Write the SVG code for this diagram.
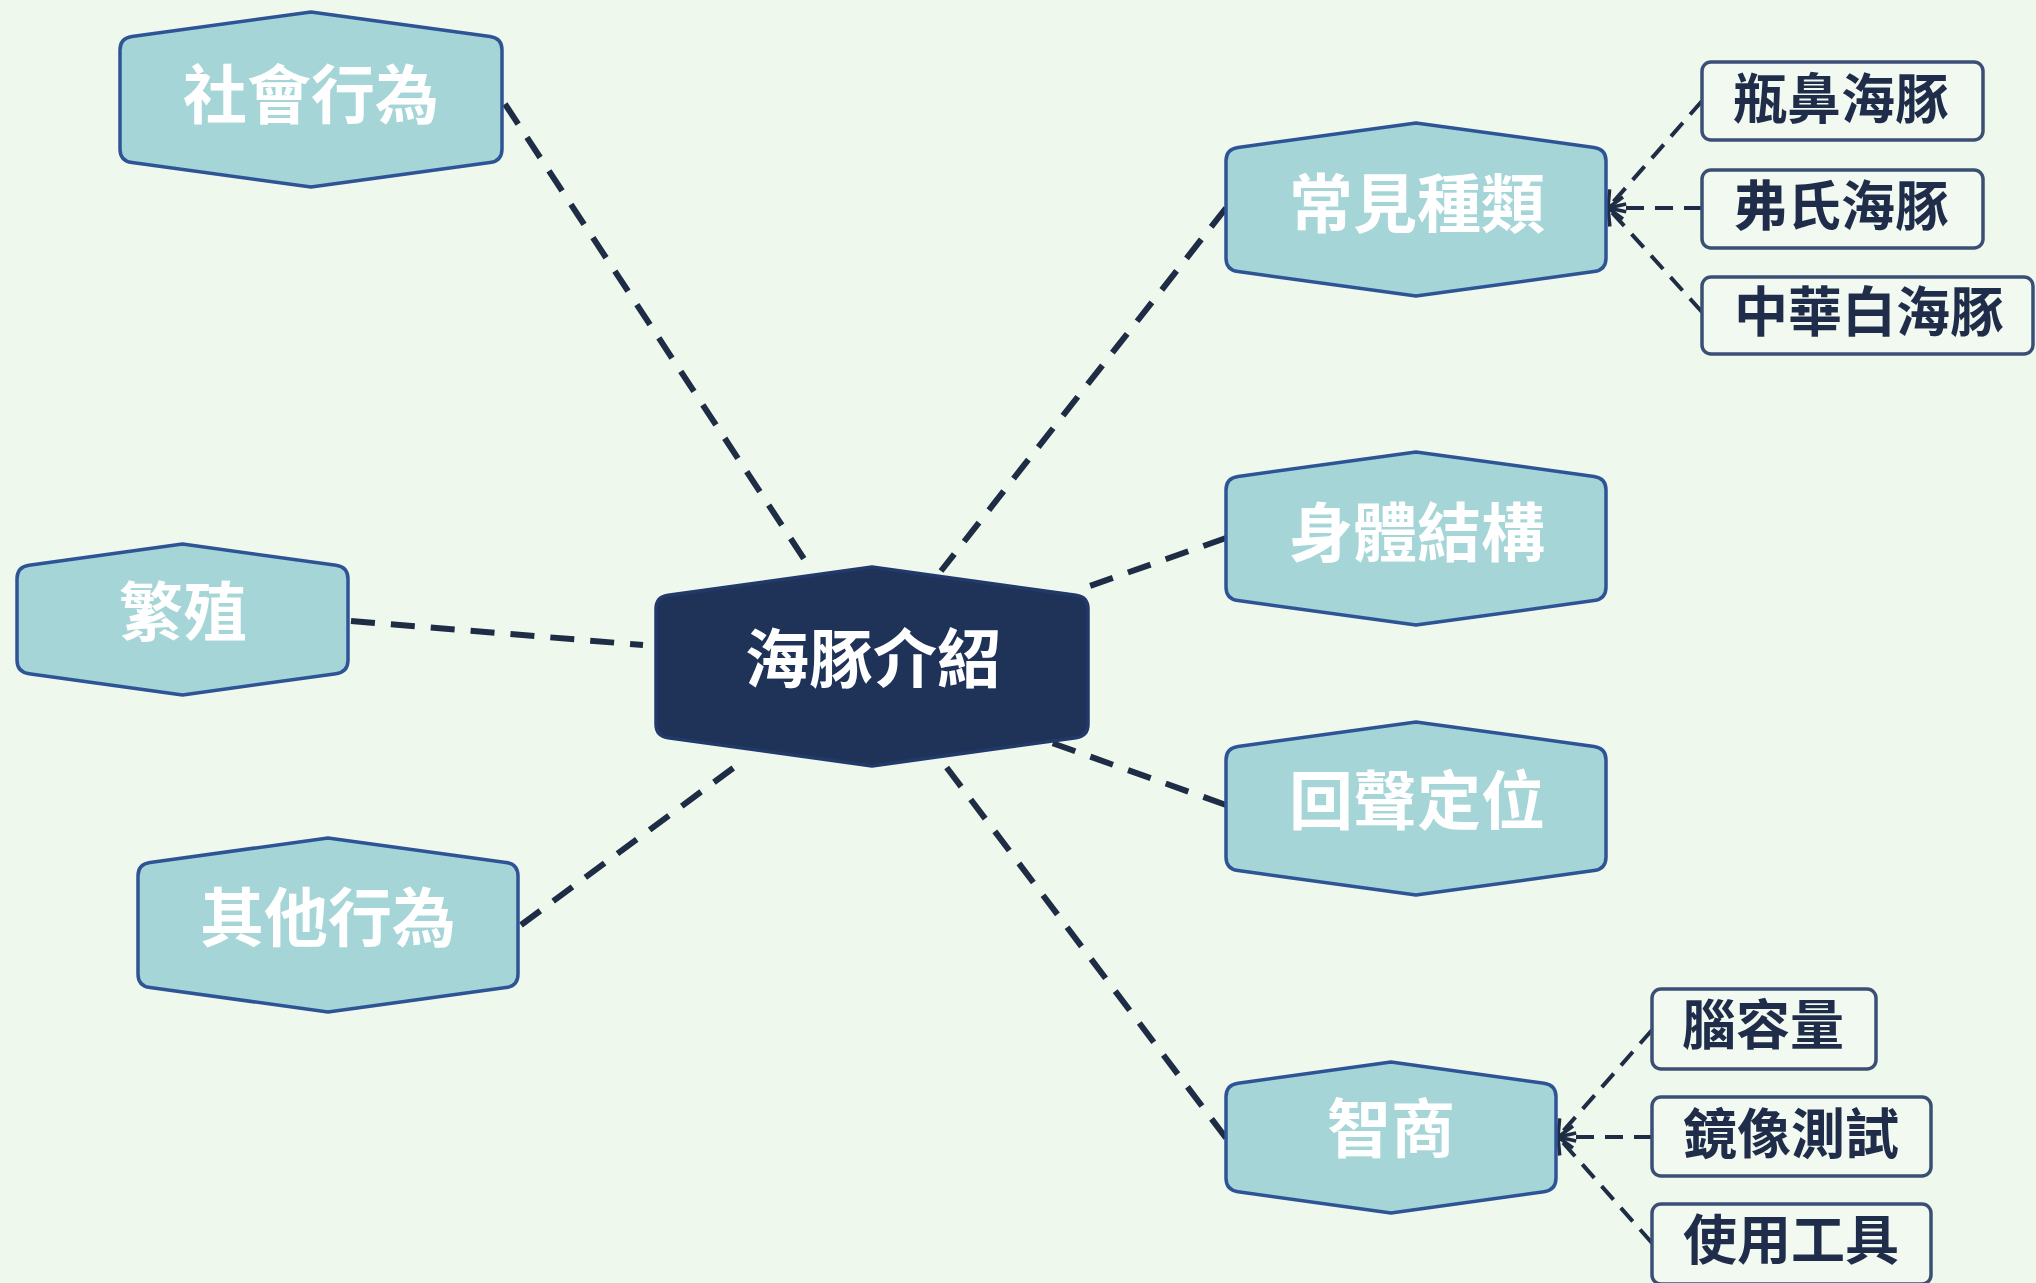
<svg xmlns="http://www.w3.org/2000/svg" width="2036" height="1283" viewBox="0 0 2036 1283">
<style>
.bg{fill:#eef8ec}
.hex{fill:#a5d5d7;stroke:#2f5496;stroke-width:3.5;stroke-linejoin:round}
.core{fill:#1f3358;stroke:#223a6a;stroke-width:3.5;stroke-linejoin:round}
.leaf{fill:#f2f9f0;stroke:#3b4f75;stroke-width:3.5}
.t1{font-family:"Noto Sans CJK TC","Noto Sans CJK SC",sans-serif;font-weight:700;font-size:64px;fill:#ffffff;text-anchor:middle;dominant-baseline:central}
.t2{font-family:"Noto Sans CJK TC","Noto Sans CJK SC",sans-serif;font-weight:700;font-size:54px;fill:#1f2d4a;text-anchor:middle;dominant-baseline:central}
.main{fill:none;stroke:#1e2c45;stroke-width:6;stroke-dasharray:24 16}
.sub{fill:none;stroke:#1e2c45;stroke-width:4;stroke-dasharray:18 11}
</style>
<defs>
<marker id="arr" markerUnits="userSpaceOnUse" markerWidth="28" markerHeight="28" viewBox="-18 -14 22 28" refX="0" refY="0" orient="auto">
<path d="M-15,-11 L0,0 L-15,11" fill="none" stroke="#1e2c45" stroke-width="3.5" stroke-dasharray="none"/>
</marker>
</defs>
<rect class="bg" x="0" y="0" width="2036" height="1283"/>
<g id="connectors">
<line class="main" x1="505" y1="104" x2="812" y2="571"/>
<line class="main" x1="1226" y1="208" x2="941" y2="571"/>
<line class="main" x1="1226" y1="538" x2="1084" y2="588"/>
<line class="main" x1="351" y1="621" x2="643" y2="645"/>
<line class="main" x1="521" y1="925" x2="744" y2="760"/>
<line class="main" x1="1226" y1="805" x2="1052" y2="743"/>
<line class="main" x1="1226" y1="1138" x2="941" y2="760"/>
<line class="sub" x1="1702" y1="101" x2="1608" y2="208" marker-end="url(#arr)"/>
<line class="sub" x1="1702" y1="208" x2="1608" y2="208" marker-end="url(#arr)"/>
<line class="sub" x1="1702" y1="312" x2="1608" y2="208" marker-end="url(#arr)"/>
<line class="sub" x1="1652" y1="1030" x2="1558" y2="1137" marker-end="url(#arr)"/>
<line class="sub" x1="1652" y1="1137" x2="1558" y2="1137" marker-end="url(#arr)"/>
<line class="sub" x1="1652" y1="1243" x2="1558" y2="1137" marker-end="url(#arr)"/>
</g>
<g id="n-social">
<path class="hex" d="M120,50 Q120,38 132,36.4 L311,12 L490,36.4 Q502,38 502,50 L502,149 Q502,161 490,162.6 L311,187 L132,162.6 Q120,161 120,149 Z"/>
<text class="t1" x="311" y="90">社會行為</text>
</g>
<g id="n-species">
<path class="hex" d="M1226,161 Q1226,149 1238,147.4 L1416,123 L1594,147.4 Q1606,149 1606,161 L1606,258 Q1606,270 1594,271.6 L1416,296 L1238,271.6 Q1226,270 1226,258 Z"/>
<text class="t1" x="1417" y="199">常見種類</text>
</g>
<g id="n-body">
<path class="hex" d="M1226,490 Q1226,478 1238,476.4 L1416,452 L1594,476.4 Q1606,478 1606,490 L1606,587 Q1606,599 1594,600.6 L1416,625 L1238,600.6 Q1226,599 1226,587 Z"/>
<text class="t1" x="1417" y="528">身體結構</text>
</g>
<g id="n-echo">
<path class="hex" d="M1226,760 Q1226,748 1238,746.4 L1416,722 L1594,746.4 Q1606,748 1606,760 L1606,857 Q1606,869 1594,870.6 L1416,895 L1238,870.6 Q1226,869 1226,857 Z"/>
<text class="t1" x="1417" y="796">回聲定位</text>
</g>
<g id="n-breed">
<path class="hex" d="M17,579 Q17,567 29,565.3 L182.5,544 L336,565.3 Q348,567 348,579 L348,660 Q348,672 336,673.7 L182.5,695 L29,673.7 Q17,672 17,660 Z"/>
<text class="t1" x="183" y="607">繁殖</text>
</g>
<g id="n-center">
<path class="core" d="M656,609 Q656,597 668,595.3 L872,567 L1076,595.3 Q1088,597 1088,609 L1088,724 Q1088,736 1076,737.7 L872,766 L668,737.7 Q656,736 656,724 Z"/>
<text class="t1" x="873" y="654">海豚介紹</text>
</g>
<g id="n-other">
<path class="hex" d="M138,876 Q138,864 150,862.4 L328,838 L506,862.4 Q518,864 518,876 L518,974 Q518,986 506,987.6 L328,1012 L150,987.6 Q138,986 138,974 Z"/>
<text class="t1" x="328" y="913">其他行為</text>
</g>
<g id="n-iq">
<path class="hex" d="M1226,1097 Q1226,1085 1238,1083.3 L1391,1062 L1544,1083.3 Q1556,1085 1556,1097 L1556,1178 Q1556,1190 1544,1191.7 L1391,1213 L1238,1191.7 Q1226,1190 1226,1178 Z"/>
<text class="t1" x="1391" y="1124">智商</text>
</g>
<g id="l-bottlenose">
<rect class="leaf" x="1702" y="62" width="281" height="78" rx="9"/>
<text class="t2" x="1841" y="95">瓶鼻海豚</text>
</g>
<g id="l-fraser">
<rect class="leaf" x="1702" y="170" width="281" height="78" rx="9"/>
<text class="t2" x="1841" y="202">弗氏海豚</text>
</g>
<g id="l-chinese">
<rect class="leaf" x="1702" y="277" width="331" height="77" rx="9"/>
<text class="t2" x="1869" y="308">中華白海豚</text>
</g>
<g id="l-brain">
<rect class="leaf" x="1652" y="989" width="224" height="80" rx="9"/>
<text class="t2" x="1763" y="1021">腦容量</text>
</g>
<g id="l-mirror">
<rect class="leaf" x="1652" y="1097" width="279" height="79" rx="9"/>
<text class="t2" x="1791" y="1130">鏡像測試</text>
</g>
<g id="l-tools">
<rect class="leaf" x="1652" y="1204" width="279" height="80" rx="9"/>
<text class="t2" x="1791" y="1236">使用工具</text>
</g>
</svg>
